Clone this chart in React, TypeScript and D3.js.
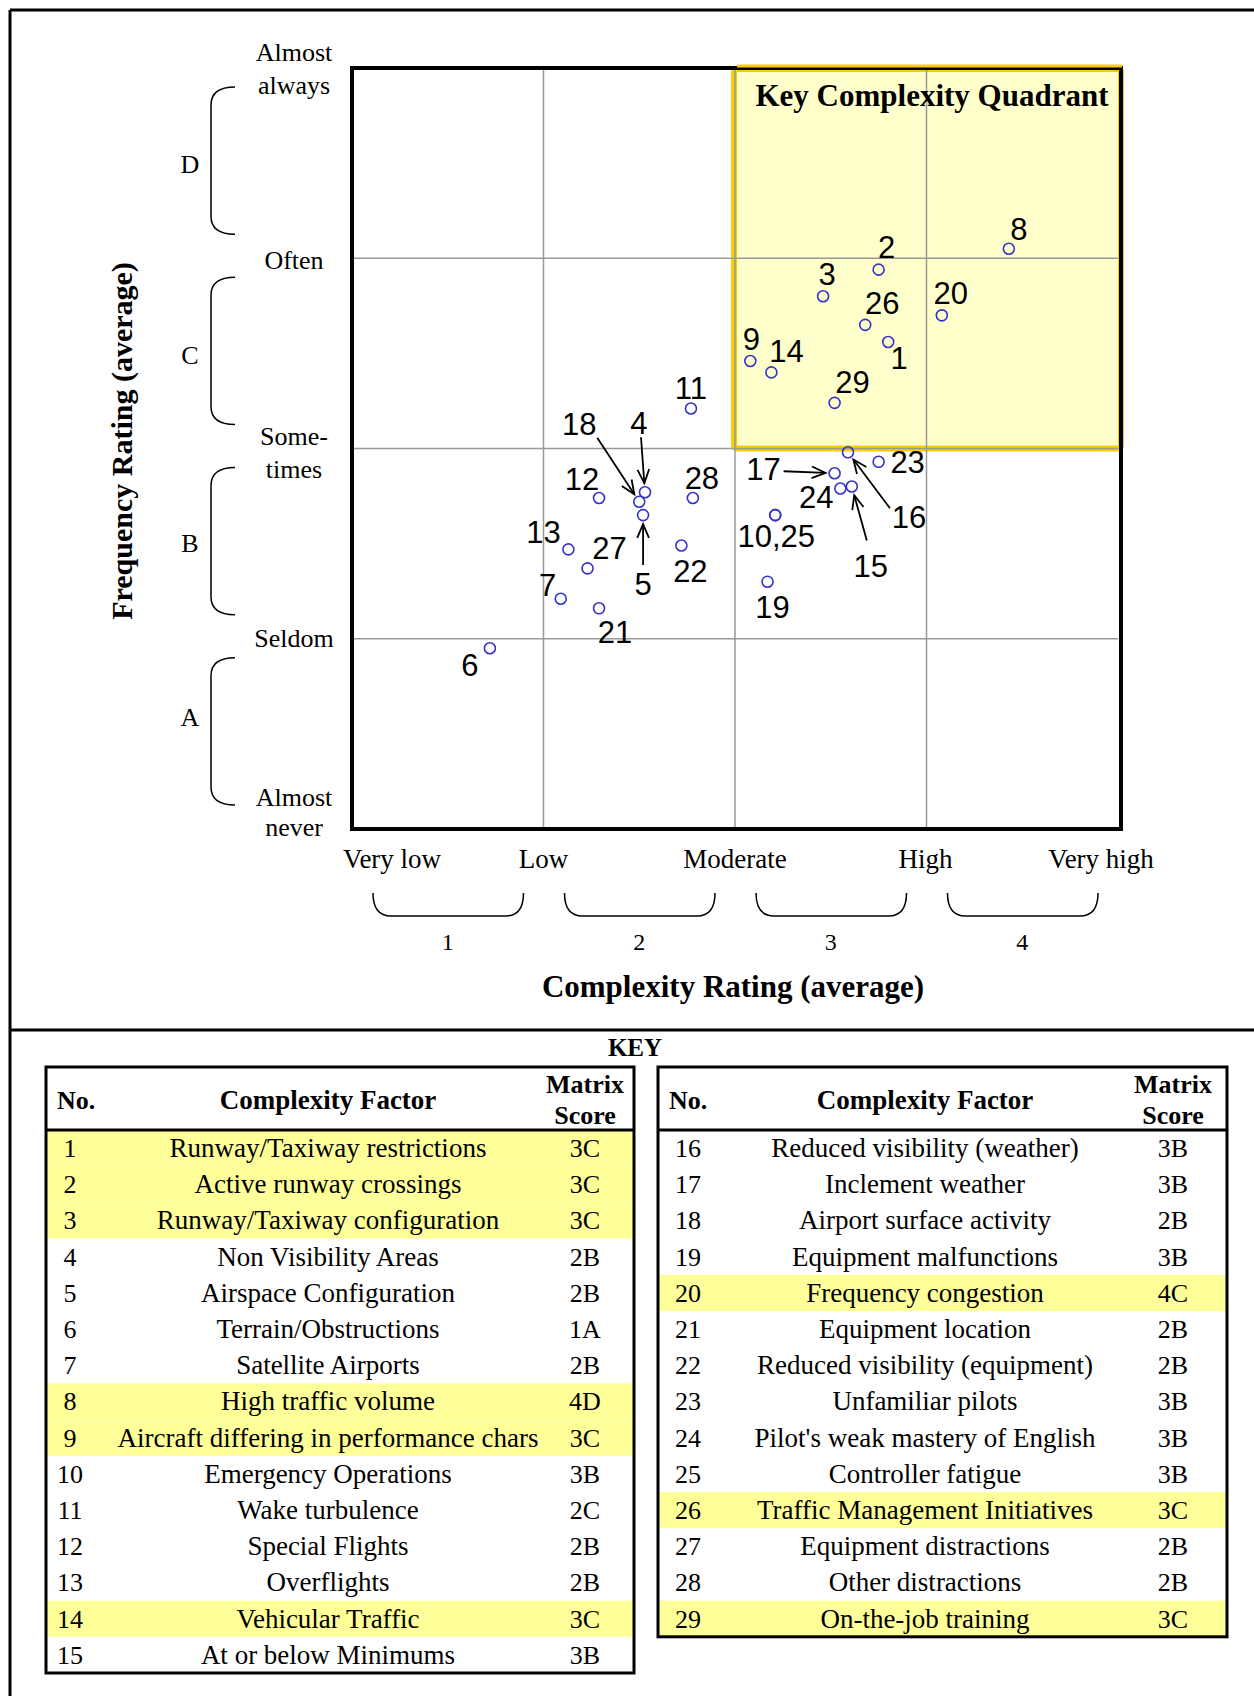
import React from "react";
import * as d3 from "d3";

// complexity factors (key)
const factorNo = [1, 2, 3, 4, 5, 6, 7, 8, 9, 10, 11, 12, 13, 14, 15, 16, 17, 18, 19, 20, 21, 22, 23, 24, 25, 26, 27, 28, 29];
const factorName = [
  "Runway/Taxiway restrictions", "Active runway crossings", "Runway/Taxiway configuration",
  "Non Visibility Areas", "Airspace Configuration", "Terrain/Obstructions", "Satellite Airports",
  "High traffic volume", "Aircraft differing in performance chars", "Emergency Operations",
  "Wake turbulence", "Special Flights", "Overflights", "Vehicular Traffic", "At or below Minimums",
  "Reduced visibility (weather)", "Inclement weather", "Airport surface activity",
  "Equipment malfunctions", "Frequency congestion", "Equipment location",
  "Reduced visibility (equipment)", "Unfamiliar pilots", "Pilot's weak mastery of English",
  "Controller fatigue", "Traffic Management Initiatives", "Equipment distractions",
  "Other distractions", "On-the-job training",
];
const matrixScore = [
  "3C", "3C", "3C", "2B", "2B", "1A", "2B", "4D", "3C", "3B", "2C", "2B", "2B", "3C", "3B",
  "3B", "3B", "2B", "3B", "4C", "2B", "2B", "3B", "3B", "3B", "3C", "2B", "2B", "3C",
];

// averages (1 = very low / almost never ... 5 = very high / almost always)
const complexity = [
  3.80, 3.75, 3.46, 2.53, 2.52, 1.72, 2.09, 4.43, 3.08, 3.21, 2.77, 2.29, 2.13, 3.19, 3.61,
  3.59, 3.52, 2.50, 3.17, 4.08, 2.29, 2.72, 3.75, 3.55, 3.21, 3.68, 2.23, 2.78, 3.52,
];
const frequency = [
  3.56, 3.94, 3.80, 2.77, 2.65, 1.95, 2.21, 4.05, 3.46, 2.65, 3.21, 2.74, 2.47, 3.40, 2.80,
  2.98, 2.87, 2.72, 2.30, 3.70, 2.16, 2.49, 2.93, 2.79, 2.65, 3.65, 2.37, 2.74, 3.24,
];
const pointLabel = [
  "1", "2", "3", "4", "5", "6", "7", "8", "9", "10,25", "11", "12", "13", "14", "15",
  "16", "17", "18", "19", "20", "21", "22", "23", "24", "", "26", "27", "28", "29",
];

const complexityTicks = ["Very low", "Low", "Moderate", "High", "Very high"];
const frequencyTicks = [["Almost", "never"], ["Seldom"], ["Some-", "times"], ["Often"], ["Almost", "always"]];
const complexityBands = ["1", "2", "3", "4"];
const frequencyBands = ["A", "B", "C", "D"];

// label placement (layout only)
const labelOffset = {
  1: [11, 16], 2: [8, -23], 3: [4, -22], 4: [-6, -69], 5: [0, 69], 6: [-20, 17], 7: [-13, -14],
  8: [10, -20], 9: [1, -22], 10: [1, 21], 11: [0, -21], 12: [-17, -19], 13: [-25, -17],
  14: [15, -22], 15: [19, 79], 16: [61, 65], 17: [-71, -4], 18: [-60, -78], 19: [5, 25],
  20: [9, -22], 21: [16, 24], 22: [9, 25], 23: [29, 0], 24: [-24, 8], 26: [17, -22],
  27: [22, -21], 28: [9, -20], 29: [18, -21],
};
const arrowFrom = { 4: [-4, -55], 5: [0, 50], 15: [15, 54], 16: [42, 56], 17: [-51, -2], 18: [-42, -64] };

const serif = "'Liberation Serif', 'Times New Roman', serif";
const sans = "'Liberation Sans', Arial, sans-serif";

function Arrow({ px, py, dx, dy }) {
  const len = Math.hypot(dx, dy);
  const ux = dx / len, uy = dy / len;
  const ex = px + ux * 9, ey = py + uy * 9;
  const sx = px + dx, sy = py + dy;
  const ang = Math.atan2(-uy, -ux);
  const head = 15, spread = 0.4;
  const h1 = [ex - head * Math.cos(ang - spread), ey - head * Math.sin(ang - spread)];
  const h2 = [ex - head * Math.cos(ang + spread), ey - head * Math.sin(ang + spread)];
  return (
    <g stroke="#000" strokeWidth={1.8} fill="none">
      <line x1={sx} y1={sy} x2={ex} y2={ey} />
      <polyline points={`${h1[0]},${h1[1]} ${ex},${ey} ${h2[0]},${h2[1]}`} />
    </g>
  );
}

function KeyTable({ left, width, rows, top, noX, nameX, scoreX }) {
  const headH = 63, rowH = 36.2;
  const h = headH + rows.length * rowH;
  return (
    <g fontFamily={serif}>
      {rows.map((i, k) => {
        const hi = +matrixScore[i][0] >= 3 && "CD".includes(matrixScore[i][1]);
        const y = top + headH + k * rowH;
        return (
          <g key={i}>
            {hi && <rect x={left} y={y} width={width} height={rowH} fill="#ffff99" />}
            <text x={noX} y={y + 27} fontSize={26} textAnchor="middle">{factorNo[i]}</text>
            <text x={nameX} y={y + 27} fontSize={27} textAnchor="middle">{factorName[i]}</text>
            <text x={scoreX} y={y + 27} fontSize={26} textAnchor="middle">{matrixScore[i]}</text>
          </g>
        );
      })}
      <text x={left + 11} y={top + 42} fontSize={26} fontWeight="bold">No.</text>
      <text x={nameX} y={top + 42} fontSize={27} fontWeight="bold" textAnchor="middle">Complexity Factor</text>
      <text x={scoreX} y={top + 26} fontSize={26} fontWeight="bold" textAnchor="middle">Matrix</text>
      <text x={scoreX} y={top + 57} fontSize={26} fontWeight="bold" textAnchor="middle">Score</text>
      <line x1={left} x2={left + width} y1={top + headH} y2={top + headH} stroke="#000" strokeWidth={3} />
      <rect x={left} y={top} width={width} height={h} fill="none" stroke="#000" strokeWidth={3} />
    </g>
  );
}

export default function App() {
  const W = 1254, H = 1696;
  const x = d3.scaleLinear().domain([1, 5]).range([352, 1118]);
  const y = d3.scaleLinear().domain([1, 5]).range([829, 68]);
  const grid = [2, 3, 4];
  const tickDx = [40, 0, 0, -1, -17];
  const tickDy = [[-23, 7], [8], [-4, 29], [11], [-7, 26]];
  const bandY = [717, 543, 355, 164];

  const leftRows = d3.range(0, 15);
  const rightRows = d3.range(15, 29);

  return (
    <svg width={W} height={H} style={{ position: "absolute", left: 0, top: 0, background: "#fff" }}>
      <rect width={W} height={H} fill="#fff" />
      {/* outer frame */}
      <g stroke="#000" strokeWidth={3}>
        <line x1={10} x2={W} y1={10} y2={10} />
        <line x1={10} x2={10} y1={10} y2={H} />
        <line x1={10} x2={W} y1={1030} y2={1030} />
      </g>

      {/* key complexity quadrant */}
      <rect x={x(3) - 1} y={y(5) + 1} width={x(5) - x(3) + 4} height={y(3) - y(5) - 1}
        rx={3} fill="#ffffcc" stroke="#ffcc00" strokeWidth={6} />

      {/* grid */}
      <g stroke="#999" strokeWidth={1.5}>
        {grid.map((g) => <line key={"v" + g} x1={x(g)} x2={x(g)} y1={y(5)} y2={y(1)} />)}
        {grid.map((g) => <line key={"h" + g} x1={x(1)} x2={x(5)} y1={y(g)} y2={y(g)} />)}
      </g>
      <rect x={x(1)} y={y(5)} width={x(5) - x(1) + 3} height={y(1) - y(5)} fill="none" stroke="#000" strokeWidth={4} />
      <line x1={x(3) + 2} x2={x(5) + 4} y1={y(5) - 2} y2={y(5) - 2} stroke="#ffcc00" strokeWidth={3} />

      <text x={932} y={106} fontFamily={serif} fontSize={31} fontWeight="bold" textAnchor="middle">Key Complexity Quadrant</text>

      {/* frequency axis */}
      <g fontFamily={serif} fontSize={26}>
        {frequencyTicks.map((lines, i) =>
          lines.map((t, j) => (
            <text key={i + "-" + j} x={294} y={y(i + 1) + tickDy[i][j]} textAnchor="middle">{t}</text>
          ))
        )}
        {frequencyBands.map((b, i) => {
          const y0 = y(i + 2) + 19, y1 = y(i + 1) - 24;
          return (
            <g key={b}>
              <path d={`M235,${y0} Q211,${y0} 211,${y0 + 18} L211,${y1 - 18} Q211,${y1} 235,${y1}`}
                fill="none" stroke="#000" strokeWidth={1.5} />
              <text x={190} y={bandY[i] + 9} textAnchor="middle">{b}</text>
            </g>
          );
        })}
      </g>
      <text transform="translate(132,441) rotate(-90)" fontFamily={serif} fontSize={30} fontWeight="bold" textAnchor="middle">
        Frequency Rating (average)
      </text>

      {/* complexity axis */}
      <g fontFamily={serif} fontSize={27}>
        {complexityTicks.map((t, i) => (
          <text key={t} x={x(i + 1) + tickDx[i]} y={868} textAnchor="middle">{t}</text>
        ))}
        {complexityBands.map((b, i) => {
          const x0 = x(i + 1) + 21, x1 = x(i + 2) - 20;
          return (
            <g key={b}>
              <path d={`M${x0},893 Q${x0},916 ${x0 + 18},916 L${x1 - 18},916 Q${x1},916 ${x1},893`}
                fill="none" stroke="#000" strokeWidth={1.5} />
              <text x={(x(i + 1) + x(i + 2)) / 2} y={950} textAnchor="middle" fontSize={24}>{b}</text>
            </g>
          );
        })}
      </g>
      <text x={733} y={997} fontFamily={serif} fontSize={31} fontWeight="bold" textAnchor="middle">
        Complexity Rating (average)
      </text>

      {/* points */}
      <g>
        {factorNo.map((n, i) => {
          const px = x(complexity[i]), py = y(frequency[i]);
          return <circle key={n} cx={px} cy={py} r={5.5} fill="none" stroke="#3333cc" strokeWidth={1.6} />;
        })}
        {factorNo.map((n, i) => {
          const a = arrowFrom[n];
          if (!a) return null;
          return <Arrow key={"a" + n} px={x(complexity[i])} py={y(frequency[i])} dx={a[0]} dy={a[1]} />;
        })}
        {factorNo.map((n, i) => {
          const off = labelOffset[n];
          if (!pointLabel[i] || !off) return null;
          return (
            <text key={"l" + n} x={x(complexity[i]) + off[0]} y={y(frequency[i]) + off[1]} dy="0.36em"
              fontFamily={sans} fontSize={31} textAnchor="middle">{pointLabel[i]}</text>
          );
        })}
      </g>

      {/* key */}
      <text x={635} y={1056} fontFamily={serif} fontSize={25} fontWeight="bold" textAnchor="middle">KEY</text>
      <KeyTable left={46} width={588} top={1067} rows={leftRows} noX={70} nameX={328} scoreX={585} />
      <KeyTable left={658} width={569} top={1067} rows={rightRows} noX={688} nameX={925} scoreX={1173} />
    </svg>
  );
}
